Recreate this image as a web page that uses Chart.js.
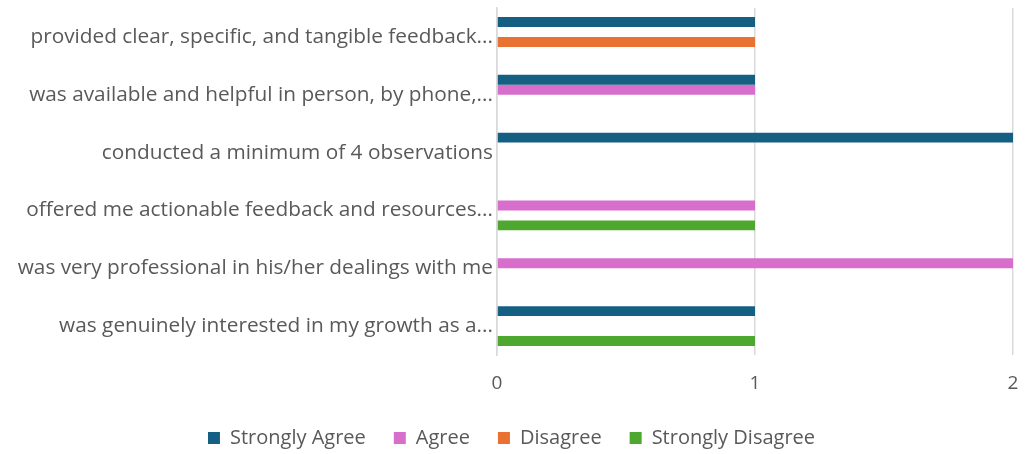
<!DOCTYPE html>
<html>
<head>
<meta charset="utf-8">
<script src="https://cdn.jsdelivr.net/npm/chart.js@4.4.1/dist/chart.umd.min.js"></script>
<style>
  html, body { margin: 0; padding: 0; background: #fff; }
  #wrap { width: 1025px; height: 454px; }
</style>
</head>
<body>
<div id="wrap"><canvas id="surveyChart"></canvas></div>
<script>
const labels = [
  'provided clear, specific, and tangible feedback...',
  'was available and helpful in person, by phone,...',
  'conducted a minimum of 4 observations',
  'offered me actionable feedback and resources...',
  'was very professional in his/her dealings with me',
  'was genuinely interested in my growth as a...',
];
const strongAgree = [1, 1, 2, null, null, 1];
const agree = [null, 1, null, 1, 2, null];
const disagree = [1, null, null, null, null, null];
const strongDisagree = [null, null, null, 1, null, 1];
const xTicks = [0, 1, 2];

const textColor = '#595959';
const fontFamily = '"Open Sans", "Noto Sans", sans-serif';

new Chart(document.getElementById('surveyChart'), {
  type: 'bar',
  data: {
    labels: labels,
    datasets: [
      { label: 'Strongly Agree', data: strongAgree, backgroundColor: '#156082' },
      { label: 'Agree', data: agree, backgroundColor: '#D86ECC' },
      { label: 'Disagree', data: disagree, backgroundColor: '#E97132' },
      { label: 'Strongly Disagree', data: strongDisagree, backgroundColor: '#4EA72E' },
    ],
  },
  options: {
    indexAxis: 'y',
    responsive: true,
    maintainAspectRatio: false,
    animation: false,
    datasets: {
      bar: { barPercentage: 1, categoryPercentage: 0.69, borderWidth: 0 },
    },
    layout: { padding: { left: 10, right: 12, top: 8, bottom: 0 } },
    scales: {
      x: {
        min: 0,
        max: 2,
        afterBuildTicks: (axis) => {
          axis.ticks = xTicks.map((v) => ({ value: v }));
        },
        // chart.js pads below the tick labels too; drop that extra space
        afterFit: (axis) => {
          axis.paddingRight = 0;
          axis.paddingLeft = 0;
          axis.height = 45;
        },
        grid: { color: '#D9D9D9', lineWidth: 1.5, drawTicks: false },
        border: { display: false },
        ticks: {
          color: textColor,
          font: { family: fontFamily, size: 19 },
          padding: 17,
        },
      },
      y: {
        grid: { display: false, drawTicks: false },
        border: { display: true, color: '#D9D9D9', width: 1.5 },
        afterFit: (axis) => {
          axis.width = 487;
          axis.paddingTop = 0;
          axis.paddingBottom = 0;
        },
        ticks: {
          color: textColor,
          font: { family: fontFamily, size: 20.8 },
          padding: 4,
        },
      },
    },
    plugins: {
      legend: {
        position: 'bottom',
        maxHeight: 54,
        labels: {
          color: textColor,
          font: { family: fontFamily, size: 20 },
          boxWidth: 12,
          boxHeight: 12,
          padding: 28,
        },
      },
      tooltip: { enabled: false },
    },
  },
});
</script>
</body>
</html>
